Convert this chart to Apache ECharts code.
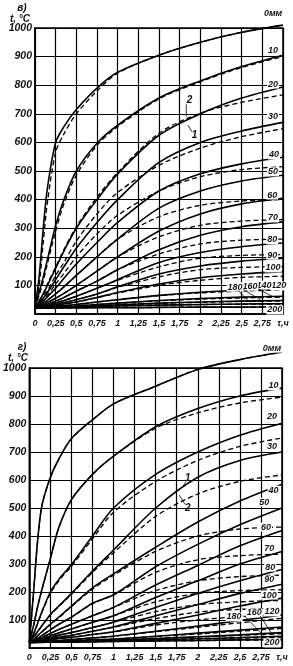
<!DOCTYPE html>
<html><head><meta charset="utf-8">
<script src="https://cdn.jsdelivr.net/npm/echarts@6/dist/echarts.min.js"></script>
<style>html,body{margin:0;padding:0;background:#fff}#c{width:293px;height:666px}</style>
</head><body><div id="c"></div>
<script>
// ---- data ----
const tau = [0, 0.05, 0.1, 0.15, 0.25, 0.35, 0.5, 0.75, 1, 1.5, 2, 2.5, 3];
const thickness = [0, 10, 20, 30, 40, 50, 60, 70, 80, 90, 100, 120, 140, 160, 180, 200];
const xTickLabels = ['0','0,25','0,5','0,75','1','1,25','1,5','1,75','2','2,25','2,5','2,75','τ,ч'];
const yTickLabels = ['', '100','200','300','400','500','600','700','800','900','1000'];

// chart "в)" — curve 1 (solid)
const topSolid = [
  [20,130,300,440,600,655,715,790,845,905,950,985,1010],
  [20,75,130,190,310,400,500,597,660,755,815,865,905],
  [20,45,70,100,160,220,300,400,490,625,700,755,794],
  [20,38,55,75,120,165,230,320,400,530,600,640,670],
  [20,32,45,60,90,125,175,250,320,430,490,525,548],
  [20,28,37,48,70,95,135,200,262,370,430,465,485],
  [20,25,30,40,55,72,100,150,200,290,350,385,405],
  [20,24,27,34,45,58,80,115,155,225,275,305,322],
  [20,23,25,30,38,47,62,90,120,180,215,235,248],
  [20,22,24,28,33,40,50,70,95,140,168,185,195],
  [20,22,23,26,30,35,42,58,75,105,127,140,148],
  [20,21,22,23,26,29,33,42,50,65,76,83,88],
  [20,21,21,22,24,26,28,33,38,47,54,59,62],
  [20,20,21,22,23,24,26,29,32,38,42,45,47],
  [20,20,20,21,22,23,24,26,28,31,33,35,36],
  [20,20,20,20,21,21,21,22,22,23,24,24,25]
];
// chart "в)" — curve 2 (dashed)
const topDashed = [
  [20,100,250,390,565,630,700,780,842,905,950,985,1010],
  [20,65,115,175,290,385,485,590,655,752,812,862,900],
  [20,45,72,105,165,225,305,408,495,632,702,740,766],
  [20,42,65,82,135,180,255,350,425,520,580,620,648],
  [20,35,52,66,105,142,200,280,345,430,480,505,515],
  [20,28,37,48,70,95,135,200,262,340,380,395,400],
  [20,25,30,40,55,72,100,150,200,270,310,325,330],
  [20,24,27,34,45,58,80,115,155,210,245,258,262],
  [20,23,25,30,38,47,62,90,118,165,195,205,208],
  [20,22,24,28,33,40,50,70,93,130,155,163,166],
  [20,22,23,26,30,35,42,57,73,100,118,128,132],
  [20,21,22,23,26,29,33,42,50,64,74,80,84],
  [20,21,21,22,24,26,28,33,38,46,52,56,59],
  [20,20,21,22,23,24,26,29,32,37,41,44,45],
  [20,20,20,21,22,23,24,26,28,31,33,34,35],
  [20,20,20,20,21,21,21,22,22,23,24,24,24]
];
// chart "г)" — curve 1 (solid)
const botSolid = [
  [20,200,390,510,610,675,748,815,872,935,995,1030,1057],
  [20,80,150,210,320,430,530,620,685,790,855,900,928],
  [20,50,90,130,200,245,298,400,500,620,700,760,803],
  [20,40,60,80,120,150,195,275,350,500,610,670,700],
  [20,30,45,58,85,110,150,215,265,360,450,525,585],
  [20,27,35,45,65,85,110,160,190,290,370,440,500],
  [20,25,30,38,52,66,85,115,145,225,295,365,420],
  [20,23,27,33,43,54,68,92,115,180,240,300,345],
  [20,22,25,30,37,46,55,73,93,145,195,240,280],
  [20,22,24,28,32,39,45,60,75,115,155,195,228],
  [20,21,23,26,29,34,38,48,58,88,118,150,178],
  [20,21,22,23,25,27,30,36,42,60,78,98,118],
  [20,21,21,22,23,24,26,29,32,42,53,64,75],
  [20,20,21,21,22,23,24,26,28,34,40,47,55],
  [20,20,20,21,21,22,23,24,25,29,33,37,42],
  [20,20,20,20,21,21,21,22,23,25,27,29,31]
];
// chart "г)" — curve 2 (dashed)
const botDashed = [
  [20,200,390,510,610,675,748,815,872,935,995,1030,1057],
  [20,80,150,210,320,430,530,620,685,785,840,875,896],
  [20,50,88,128,195,240,292,390,485,595,670,720,750],
  [20,40,58,79,118,148,192,270,340,470,550,595,618],
  [20,30,44,57,84,108,148,210,260,345,400,425,432],
  [20,27,35,45,65,85,110,158,190,270,315,330,335],
  [20,25,30,38,52,66,85,115,145,205,240,255,260],
  [20,23,27,33,43,54,68,92,115,165,195,205,208],
  [20,22,25,30,37,46,55,73,92,130,155,165,170],
  [20,22,24,28,32,39,45,60,74,105,128,138,142],
  [20,21,23,26,29,34,38,48,57,82,100,112,118],
  [20,21,22,23,25,27,30,36,42,58,74,90,106],
  [20,21,21,22,23,24,26,29,32,41,50,60,70],
  [20,20,21,21,22,23,24,26,28,33,39,45,51],
  [20,20,20,21,21,22,23,24,25,28,32,35,39],
  [20,20,20,20,21,21,21,22,23,25,26,28,29]
];
// curve labels: text with anchor (τ, t) in data space
const topLabelText = ['0мм','10','20','30','40','50','60','70','80','90','100','120','140','160','180','200'];
const topLabelTau  = [2.88,2.88,2.88,2.88,2.89,2.88,2.87,2.88,2.87,2.87,2.88,2.95,2.77,2.60,2.42,2.90];
const topLabelT    = [1049,923,804,689,556,497,416,336,259,206,161,98,101,97,94,14];
const botLabelText = ['0мм','10','20','30','40','50','60','70','80','90','100','120','160','180','200'];
const botLabelTau  = [2.88,2.90,2.88,2.88,2.90,2.79,2.81,2.85,2.86,2.85,2.85,2.88,2.67,2.43,2.88];
const botLabelT    = [1071,936,825,721,564,521,432,357,289,243,189,129,125,111,18];

// ---- chart ----
const chart = echarts.init(document.getElementById('c'), null, {renderer: 'canvas'});
const FONT = "'Liberation Sans Narrow','Liberation Sans','DejaVu Sans',sans-serif";
const labelStyle = {fontStyle:'italic', fontWeight:'bold', fontSize:9, color:'#111', fontFamily:FONT};

function xAxis(gi){
  return {type:'value', gridIndex:gi, min:0, max:3, interval:0.25,
    axisLine:{show:true, onZero:false, lineStyle:{color:'#000', width:1.5}},
    axisTick:{show:false},
    splitLine:{show:true, lineStyle:{color:'#000', width:1.2}},
    axisLabel:Object.assign({margin:5, formatter:v => xTickLabels[Math.round(v/0.25)], showMaxLabel:true, showMinLabel:true}, labelStyle)};
}
function yAxis(gi){
  return {type:'value', gridIndex:gi, min:0, max:1000, interval:100,
    axisLine:{show:true, lineStyle:{color:'#000', width:1.5}},
    axisTick:{show:false},
    splitLine:{show:true, lineStyle:{color:'#000', width:1.2}},
    axisLabel:Object.assign({margin:3, formatter:v => yTickLabels[Math.round(v/100)]}, labelStyle, {fontSize:10.5})};
}
const series = [];
function addSeries(gi, solid, dashed){
  thickness.forEach((d,i)=>{
    series.push({type:'line', name:'d'+d, xAxisIndex:gi, yAxisIndex:gi, symbol:'none', clip:false,
      smooth:0.3,
      lineStyle:{color:'#000', width:1.6},
      data: tau.map((x,k)=>[x, solid[i][k]]), z:3});
    series.push({type:'line', name:'d'+d+'b', xAxisIndex:gi, yAxisIndex:gi, symbol:'none', clip:false,
      smooth:0.3,
      lineStyle:{color:'#000', width:1.3, type:[5,3]},
      data: tau.map((x,k)=>[x, dashed[i][k]]), z:3});
  });
}
addSeries(0, topSolid, topDashed);
addSeries(1, botSolid, botDashed);

chart.setOption({
  animation:false,
  backgroundColor:'#fff',
  grid:[
    {left:35, top:28, width:248, height:286, show:true, borderColor:'#000', borderWidth:1.5},
    {left:26, top:368, width:256, height:280, show:true, borderColor:'#000', borderWidth:1.5}
  ],
  xAxis:[xAxis(0), xAxis(1)],
  yAxis:[yAxis(0), yAxis(1)],
  series: series
});

// text and label overlay
const g = [];
function txt(x,y,s,opt){
  g.push({type:'text', x:x, y:y, z:10,
    style:Object.assign({text:s, fill:'#111', font:"italic bold 9px "+FONT, align:'center', verticalAlign:'middle'}, opt||{})});
}
function px(gi, a){ return chart.convertToPixel({gridIndex:gi}, a); }
function lbl(gi, texts, taus, ts){
  texts.forEach((s,i)=>{
    const p = px(gi, [taus[i], ts[i]]);
    txt(p[0], p[1], s, {backgroundColor:'#fff', padding:[0,1]});
  });
}
function leader(gi, a, b){
  const p = px(gi, a), q = px(gi, b);
  g.push({type:'line', z:10, shape:{x1:p[0],y1:p[1],x2:q[0],y2:q[1]}, style:{stroke:'#000', lineWidth:0.8}});
}
lbl(0, topLabelText, topLabelTau, topLabelT);
lbl(1, botLabelText, botLabelTau, botLabelT);
leader(0, [2.52,86],[2.75,45]); leader(0,[2.7,88],[2.88,60]); leader(0,[2.46,82],[2.6,40]);
leader(1, [2.56,113],[2.78,45]); leader(1,[2.74,115],[2.88,50]);
leader(0, [1.83,733],[1.83,690]); leader(0,[1.9,637],[1.85,660]);
let p;
p = px(0,[1.87,748]); txt(p[0], p[1], '2', {font:"italic bold 10px "+FONT});
p = px(0,[1.93,626]); txt(p[0], p[1], '1', {font:"italic bold 10px "+FONT});
leader(1, [1.86,595],[1.82,575]); leader(1,[1.85,512],[1.78,546]);
p = px(1,[1.88,607]); txt(p[0], p[1], '1', {font:"italic bold 10px "+FONT});
p = px(1,[1.88,500]); txt(p[0], p[1], '2', {font:"italic bold 10px "+FONT});
txt(22, 8, 'в)', {font:"italic bold 10px "+FONT}); txt(20, 19, 't, °C', {font:"italic bold 10px "+FONT});
txt(22, 347, 'г)', {font:"italic bold 10px "+FONT}); txt(18, 358, 't, °C', {font:"italic bold 10px "+FONT});
chart.setOption({graphic: g});
</script></body></html>
